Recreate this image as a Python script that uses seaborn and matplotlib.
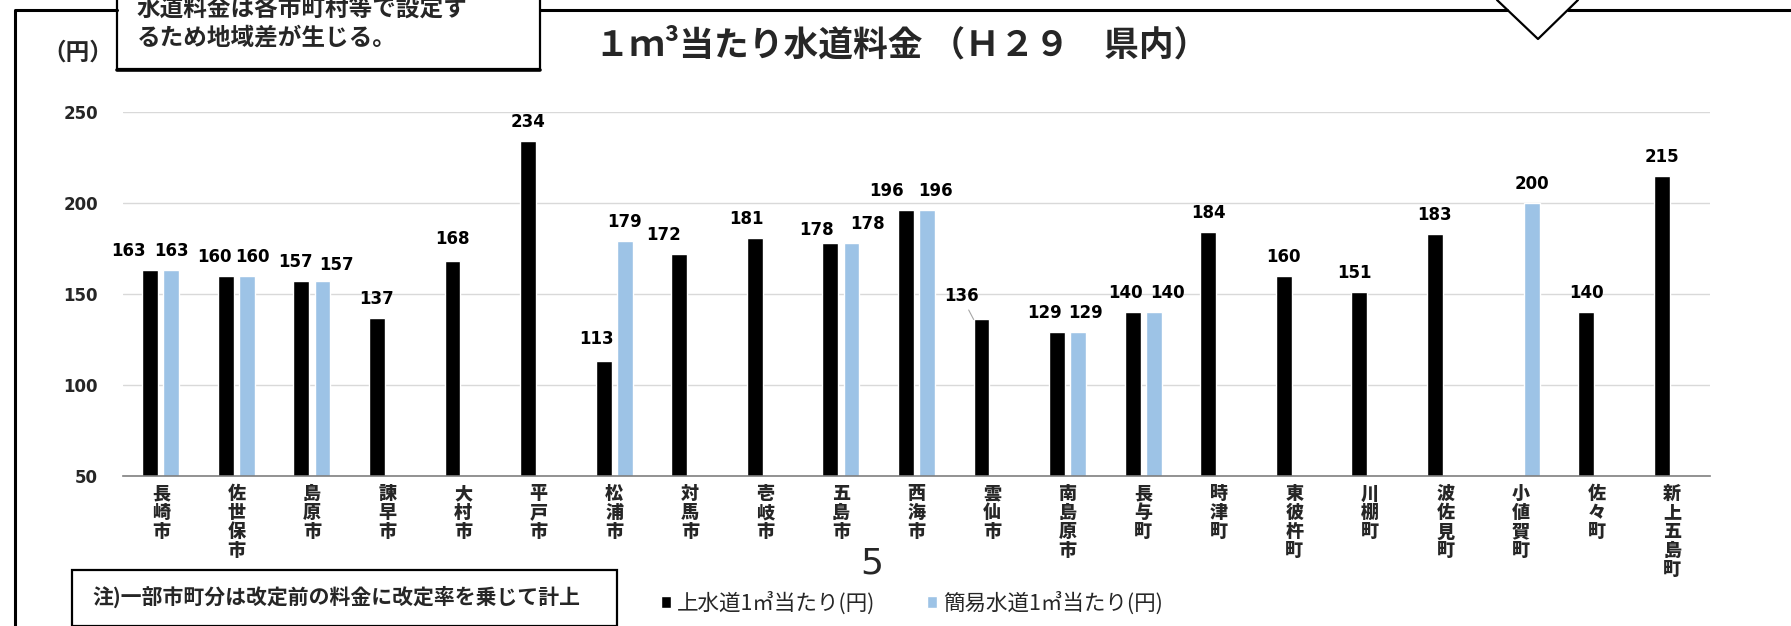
import numpy as np
import pandas as pd
import matplotlib
matplotlib.use("Agg")
import matplotlib.pyplot as plt
import seaborn as sns
from matplotlib.patches import Rectangle
from matplotlib.lines import Line2D

# ---------------- data ----------------
categories = ['長崎市', '佐世保市', '島原市', '諫早市', '大村市', '平戸市', '松浦市',
              '対馬市', '壱岐市', '五島市', '西海市', '雲仙市', '南島原市', '長与町',
              '時津町', '東彼杵町', '川棚町', '波佐見町', '小値賀町', '佐々町', '新上五島町']
jousuido = [163, 160, 157, 137, 168, 234, 113, 172, 181, 178, 196, 136, 129, 140,
            184, 160, 151, 183, np.nan, 140, 215]
kan_i = [163, 160, 157, np.nan, np.nan, np.nan, 179, np.nan, np.nan, 178, 196, np.nan,
         129, 140, np.nan, np.nan, np.nan, np.nan, 200, np.nan, np.nan]
series_names = ['上水道1㎥当たり(円)', '簡易水道1㎥当たり(円)']
yticks = [50, 100, 150, 200, 250]
title_text = '１ｍ³当たり水道料金 （Ｈ２９　県内）'
unit_text = '（円）'
box_lines = ['水道料金は各市町村等で設定す', 'るため地域差が生じる。']
note_text = '注)一部市町分は改定前の料金に改定率を乗じて計上'
page_no = '5'

# ---------------- styling ----------------
colors = ['#000000', '#9DC3E6']
W, H = 1791, 626
sns.set_style('white')
plt.rcParams['font.family'] = ['Noto Sans CJK JP', 'DejaVu Sans']

rows = []
for cat, a, b in zip(categories, jousuido, kan_i):
    rows.append((cat, series_names[0], a))
    rows.append((cat, series_names[1], b))
df = pd.DataFrame(rows, columns=['市町', '系列', '料金']).dropna()

fig = plt.figure(figsize=(W / 100, H / 100), dpi=100)
fig.patch.set_facecolor('white')

# axes placement in pixels
ax_l, ax_r, ax_t, ax_b = 123, 1710, 112, 476
ax = fig.add_axes([ax_l / W, 1 - ax_b / H, (ax_r - ax_l) / W, (ax_b - ax_t) / H], zorder=2)
ax.patch.set_alpha(0)

sns.barplot(data=df, x='市町', y='料金', hue='系列', order=categories,
            hue_order=series_names, palette=colors, saturation=1,
            width=0.556, gap=0.245, errorbar=None, ax=ax)

ax.set_ylim(50, 250)
ax.set_xlim(-0.5, len(categories) - 0.5)
ax.set_yticks(yticks)
ax.set_yticklabels([str(v) for v in yticks], fontfamily='DejaVu Sans',
                   fontweight='bold', fontsize=12)
ax.set_xticks(range(len(categories)))
ax.set_xticklabels(['\n'.join(c) for c in categories], fontsize=13,
                   fontweight='heavy', va='top', linespacing=1.0)
ax.tick_params(axis='y', length=0, pad=18)
ax.tick_params(axis='x', length=0, pad=6)
ax.set_xlabel('')
ax.set_ylabel('')
ax.yaxis.grid(True, color='#D9D9D9', lw=1.0)
ax.xaxis.grid(False)
ax.set_axisbelow(True)
for s in ['top', 'right', 'left']:
    ax.spines[s].set_visible(False)
ax.spines['bottom'].set_color('#7F7F7F')
ax.spines['bottom'].set_linewidth(1.2)

# data labels (nudges in pixels, mimicking the original label placement)
dx_nudge = {0: {0: -22, 1: -11, 2: -6, 6: -7, 7: -16, 8: -8, 9: -14, 10: -19,
                11: -20, 12: -13, 13: -7, 16: -5},
            1: {1: 6, 2: 14, 9: 16, 10: 8, 12: 7, 13: 14}}
dy_nudge = {0: {4: 22, 6: 22, 9: 13, 11: 23}, 1: {2: 16}}
for si, cont in enumerate(ax.containers[:2]):
    for bar in cont:
        h = bar.get_height()
        if not np.isfinite(h):
            continue
        cx = bar.get_x() + bar.get_width() / 2
        ci = int(round(cx))
        dx = dx_nudge[si].get(ci, 0)
        dy = dy_nudge[si].get(ci, 19)
        kw = dict(textcoords='offset pixels', ha='center', va='center',
                  fontsize=12, fontweight='bold', fontfamily='DejaVu Sans',
                  color='#000000', annotation_clip=False)
        if si == 0 and ci == 11:
            # label moved aside with a leader line to the bar's top-left corner
            kw['arrowprops'] = dict(arrowstyle='-', color='#A6A6A6', lw=0.8,
                                    shrinkA=1, shrinkB=0)
            ax.annotate(f'{h:.0f}', xy=(bar.get_x(), h), xytext=(-12, dy), **kw)
        else:
            ax.annotate(f'{h:.0f}', xy=(cx, h), xytext=(dx, dy), **kw)

# legend
sns.move_legend(ax, 'center', bbox_to_anchor=(912 / W, 1 - 603 / H),
                bbox_transform=fig.transFigure, ncol=2, frameon=False, title=None,
                fontsize=15.5, handlelength=0.45, handleheight=0.45,
                handletextpad=0.3, columnspacing=2.4)

# ---------------- overlay decorations (pixel coordinates) ----------------
ov = fig.add_axes([0, 0, 1, 1], zorder=1)
ov.set_xlim(0, W)
ov.set_ylim(H, 0)
ov.axis('off')
ov.patch.set_alpha(0)

lc = '#000000'
ov.add_line(Line2D([15, 15, 117], [H, 10, 10], color=lc, lw=2.2))
ov.add_line(Line2D([540, 1507], [10, 10], color=lc, lw=2.2))
ov.add_line(Line2D([1568, W], [10, 10], color=lc, lw=2.2))
ov.add_line(Line2D([1497, 1538, 1578], [0, 39, 0], color=lc, lw=1.6))

# top-left explanation box
ov.add_patch(Rectangle((117, -5), 540 - 117, 69 + 5, facecolor='white',
                       edgecolor=lc, lw=1.6))
ov.add_line(Line2D([117, 540], [70, 70], color=lc, lw=2.6))
ov.text(137, 9, box_lines[0], fontsize=17, fontweight='bold', ha='left', va='center')
ov.text(137, 38, box_lines[1], fontsize=17, fontweight='bold', ha='left', va='center')

ov.text(78, 53, unit_text, fontsize=17, fontweight='bold', ha='center', va='center')
ov.text(902, 45, title_text, fontsize=25, fontweight='bold', ha='center', va='center')

# note box
ov.add_patch(Rectangle((72, 570), 617 - 72, 56, facecolor='white',
                       edgecolor=lc, lw=1.6))
ov.text(92, 597, note_text, fontsize=15, fontweight='bold', ha='left', va='center')

ov.text(872, 564, page_no, fontsize=26, fontfamily=['Liberation Sans Narrow', 'DejaVu Sans'],
        ha='center', va='center')

fig.savefig('out.png', dpi=100, facecolor='white')
